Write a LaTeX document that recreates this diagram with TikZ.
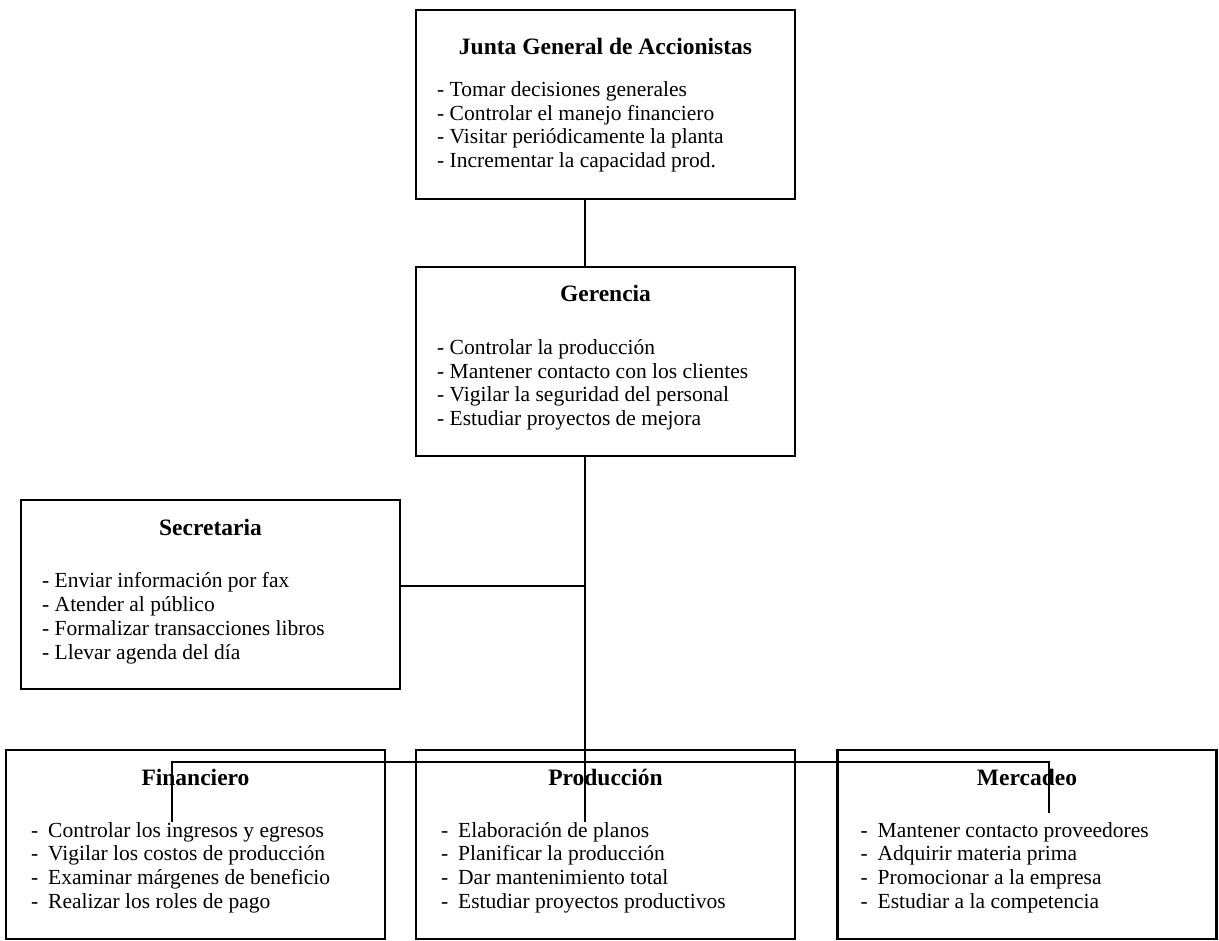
\documentclass[tikz,border=0pt]{standalone}
\usepackage{fontspec}
\setmainfont{Liberation Serif}
\usepackage{tikz}

\tikzset{
  org box/.style={draw, line width=2.6pt, minimum width=379pt, minimum height=189pt, inner sep=0pt, outer sep=0pt},
  box title/.style={font=\fontsize{23.5}{27}\selectfont\bfseries, anchor=base, inner sep=0pt},
  box item/.style={font=\fontsize{21.5}{23.5}\selectfont, anchor=base west, inner sep=0pt},
  link/.style={line width=2pt}
}

\begin{document}
\begin{tikzpicture}[x=1pt,y=-1pt]
\useasboundingbox (0,0) rectangle (1219,941);

\node[org box] (junta) at (605.5,104.5) {};
\node[org box] (gerencia) at (605.5,361.5) {};
\node[org box] (secretaria) at (210.5,594.5) {};
\node[org box] (financiero) at (195.5,844.5) {};
\node[org box] (produccion) at (605.5,844.5) {};
\node[org box] (mercadeo) at (1027,844.5) {};

\path (junta.north) ++(0,45) node[box title] {Junta General de Accionistas};
\path (gerencia.north) ++(0,35) node[box title] {Gerencia};
\path (secretaria.north) ++(0,35) node[box title] {Secretaria};
\path (financiero.north) ++(0,35) node[box title] {Financiero};
\path (produccion.north) ++(0,35) node[box title] {Producción};
\path (mercadeo.north) ++(0,35) node[box title] {Mercadeo};

\foreach \t [count=\i] in {Tomar decisiones generales, Controlar el manejo financiero, Visitar periódicamente la planta, Incrementar la capacidad prod.}
  \path (junta.north west) ++(21,{87+23.5*(\i-1)}) node[box item] {- \t};
\foreach \t [count=\i] in {Controlar la producción, Mantener contacto con los clientes, Vigilar la seguridad del personal, Estudiar proyectos de mejora}
  \path (gerencia.north west) ++(21,{88+23.5*(\i-1)}) node[box item] {- \t};
\foreach \t [count=\i] in {Enviar información por fax, Atender al público, Formalizar transacciones libros, Llevar agenda del día}
  \path (secretaria.north west) ++(21,{87+24*(\i-1)}) node[box item] {- \t};
\foreach \t [count=\i] in {Controlar los ingresos y egresos, Vigilar los costos de producción, Examinar márgenes de beneficio, Realizar los roles de pago}
  \path (financiero.north west) ++(25,{87+23.7*(\i-1)}) node[box item] {\makebox[17pt][l]{-}\t};
\foreach \t [count=\i] in {Elaboración de planos, Planificar la producción, Dar mantenimiento total, Estudiar proyectos productivos}
  \path (produccion.north west) ++(25,{87+23.7*(\i-1)}) node[box item] {\makebox[17pt][l]{-}\t};
\foreach \t [count=\i] in {Mantener contacto proveedores, Adquirir materia prima, Promocionar a la empresa, Estudiar a la competencia}
  \path (mercadeo.north west) ++(23,{87+23.7*(\i-1)}) node[box item] {\makebox[17pt][l]{-}\t};

\coordinate (fork) at (585,762);
\coordinate (secjoin) at (585,586);
\coordinate (prodend) at (585,822);
\coordinate (finend) at (172,822);
\coordinate (mercend) at (1049,813);

\draw[link] (junta.south -| fork) -- (gerencia.north -| fork);
\draw[link] (gerencia.south -| fork) -- (prodend);
\draw[link] (secretaria.east |- secjoin) -- (secjoin);
\draw[link] (finend) -- (finend |- fork) -- (mercend |- fork) -- (mercend);
\end{tikzpicture}
\end{document}
